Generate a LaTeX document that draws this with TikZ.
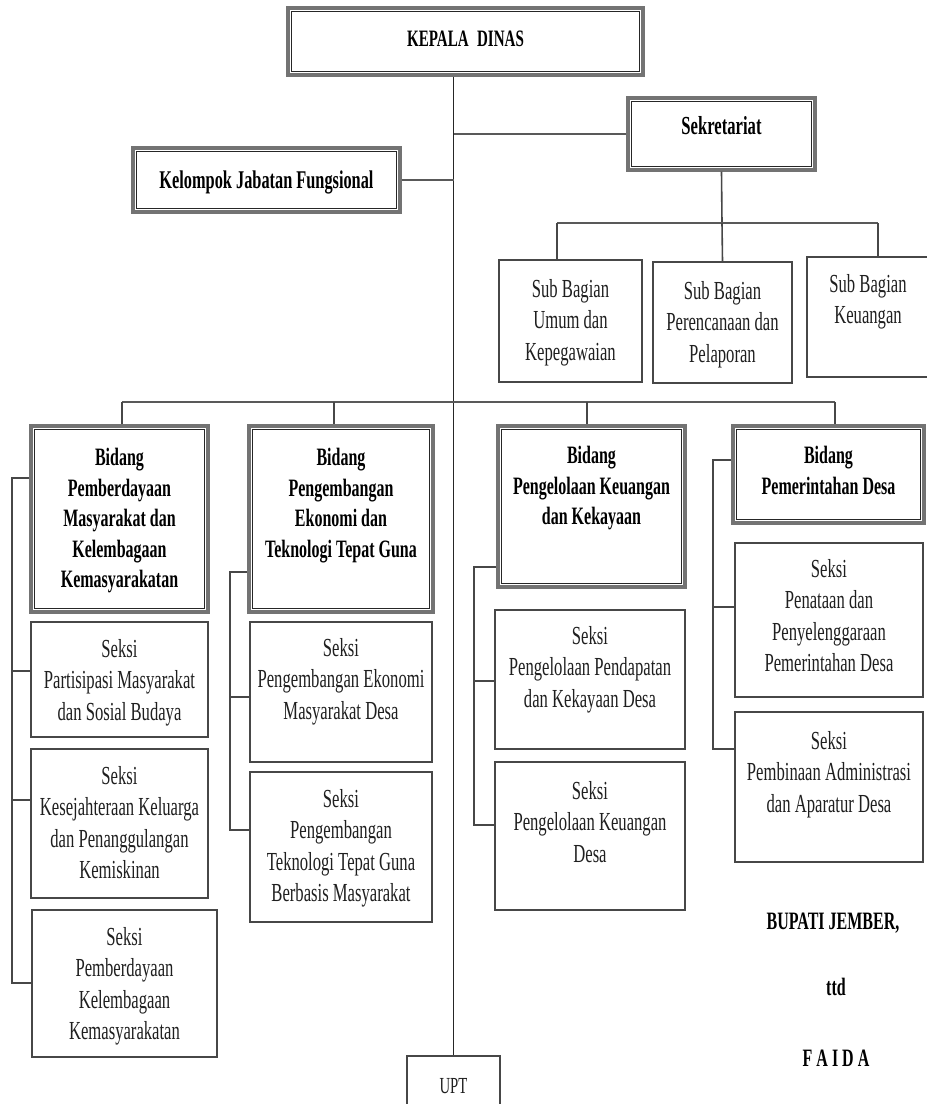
\documentclass[tikz,border=0pt]{standalone}
\usepackage{fontspec}
\setmainfont[FakeStretch=0.64]{Liberation Serif}
\begin{document}
\begin{tikzpicture}[x=1pt,y=-1pt,
  conn/.style={line width=1.6pt, draw=black!72},
  thickconn/.style={line width=2.4pt, draw=black!65},
  mainline/.style={line width=1.3pt, draw=black!85},
  sbox/.style={draw=black!72, line width=1.8pt, inner sep=0pt, fill=white},
  dbox/.style={draw=black!55, line width=3.2pt, inner sep=0pt, fill=white,
    path picture={\draw[black!85, line width=0.9pt]
      ([shift={(3.6pt,-3.6pt)}]path picture bounding box.north west) rectangle
      ([shift={(-3.6pt,3.6pt)}]path picture bounding box.south east);}},
  txt/.style={anchor=north, align=center, inner sep=0pt, text=black!88,
    font=\fontsize{26}{31.5}\selectfont},
  btxt/.style={anchor=north, align=center, inner sep=0pt, text=black,
    font=\bfseries\fontsize{25}{30.5}\selectfont}
]
\newcommand\bx[8]{\node[#2, minimum width={(#5-#3)*1pt}, minimum height={(#6-#4)*1pt},
  label={[#7]north:{#8}}] (#1) at ({(#3+#5)/2},{(#4+#6)/2}) {};}
\useasboundingbox (0,0) rectangle (927,1104);
\clip (0,0) rectangle (927,1104);
\fill[white] (0,0) rectangle (927,1104);

% helper coordinates
\coordinate (secbar) at (722,223);
\coordinate (secL) at (557,223);
\coordinate (secR) at (878,223);
\coordinate (bidL) at (122,402);
\coordinate (bid2) at (334,402);
\coordinate (bid3) at (587,402);
\coordinate (bidR) at (835,402);
\coordinate (sp1) at (12,478);
\coordinate (sp2) at (230,572);
\coordinate (sp3) at (474,567);
\coordinate (sp4) at (713,460);

% top level
\bx{kd}{dbox}{288}{8}{643}{75}{btxt,yshift=-24pt,font=\bfseries\fontsize{23.5}{28}\selectfont}{KEPALA\hspace{0.36em}DINAS}
\bx{sek}{dbox}{628}{98}{815}{170}{btxt,yshift=-20pt,font=\bfseries\fontsize{26}{30}\selectfont}{Sekretariat}
\bx{kjf}{dbox}{133}{148}{400}{212}{btxt,yshift=-24pt,font=\bfseries\fontsize{25.5}{30}\selectfont}{Kelompok Jabatan Fungsional}
\bx{upt}{sbox}{407}{1056}{500}{1120}{txt,yshift=-23pt,font=\fontsize{23}{27}\selectfont}{UPT}

% connectors (drawn before lower boxes)
\draw[mainline] (kd.south -| upt.north) -- (upt.north);
\draw[thickconn] (sek.west) -- (sek.west -| upt.north);
\draw[thickconn] (kjf.east) -- (kjf.east -| upt.north);
\draw[conn] (sek.south) -- (secbar);
\draw[thickconn] (secL) -- (secR);
\draw[thickconn] (bidL) -- (bidR);

% sub bagian
\bx{sb1}{sbox}{499}{260}{642}{382}{txt,yshift=-20pt}{Sub Bagian\\Umum dan\\Kepegawaian}
\bx{sb2}{sbox}{653}{262}{792}{383}{txt,yshift=-20pt}{Sub Bagian\\Perencanaan dan\\Pelaporan}
\bx{sb3}{sbox}{807}{257}{945}{377}{txt,yshift=-18pt,xshift=-8pt}{Sub Bagian\\Keuangan}

% bidang
\bx{b1}{dbox}{31}{426}{208}{612}{btxt,yshift=-24pt}{Bidang\\Pemberdayaan\\Masyarakat dan\\Kelembagaan\\Kemasyarakatan}
\bx{b2}{dbox}{249}{426}{433}{612}{btxt,yshift=-24pt}{Bidang\\Pengembangan\\Ekonomi dan\\Teknologi Tepat Guna}
\bx{b3}{dbox}{498}{426}{685}{587}{btxt,yshift=-22pt}{Bidang\\Pengelolaan Keuangan\\dan Kekayaan}
\bx{b4}{dbox}{733}{426}{924}{523}{btxt,yshift=-22pt}{Bidang\\Pemerintahan Desa}

% seksi
\bx{s1a}{sbox}{31}{622}{208}{737}{txt,yshift=-18pt}{Seksi\\Partisipasi Masyarakat\\dan Sosial Budaya}
\bx{s1b}{sbox}{31}{749}{208}{898}{txt,yshift=-18pt}{Seksi\\Kesejahteraan Keluarga\\dan Penanggulangan\\Kemiskinan}
\bx{s1c}{sbox}{32}{910}{217}{1057}{txt,yshift=-18pt}{Seksi\\Pemberdayaan\\Kelembagaan\\Kemasyarakatan}
\bx{s2a}{sbox}{250}{622}{432}{762}{txt,yshift=-17pt}{Seksi\\Pengembangan Ekonomi\\Masyarakat Desa}
\bx{s2b}{sbox}{250}{772}{432}{922}{txt,yshift=-18pt}{Seksi\\Pengembangan\\Teknologi Tepat Guna\\Berbasis Masyarakat}
\bx{s3a}{sbox}{495}{610}{685}{749}{txt,yshift=-17pt}{Seksi\\Pengelolaan Pendapatan\\dan Kekayaan Desa}
\bx{s3b}{sbox}{495}{762}{685}{910}{txt,yshift=-20pt}{Seksi\\Pengelolaan Keuangan\\Desa}
\bx{s4a}{sbox}{735}{543}{923}{697}{txt,yshift=-17pt}{Seksi\\Penataan dan\\Penyelenggaraan\\Pemerintahan Desa}
\bx{s4b}{sbox}{735}{712}{923}{862}{txt,yshift=-20pt}{Seksi\\Pembinaan Administrasi\\dan Aparatur Desa}

% signature
\node[btxt] (bup) at (833,913) {BUPATI JEMBER,};
\node[btxt] (ttd) at (836,978) {ttd};
\node[btxt] (faida) at (836,1050) {F A I D A};

% drops
\draw[conn] (secL) -- (secL |- sb1.north);
\draw[conn] (secbar) -- (sb2.north);
\draw[conn] (secR) -- (secR |- sb3.north);
\draw[conn] (bidL) -- (bidL |- b1.north);
\draw[conn] (bid2) -- (bid2 |- b2.north);
\draw[conn] (bid3) -- (bid3 |- b3.north);
\draw[conn] (bidR) -- (bidR |- b4.north);

% spines
\draw[conn] (b1.west |- sp1) -- (sp1) -- (12,983) -- (s1c.west |- 12,983);
\draw[conn] (12,671) -- (s1a.west |- 12,671);
\draw[conn] (12,800) -- (s1b.west |- 12,800);

\draw[conn] (b2.west |- sp2) -- (sp2) -- (230,830) -- (s2b.west |- 230,830);
\draw[conn] (230,697) -- (s2a.west |- 230,697);

\draw[conn] (b3.west |- sp3) -- (sp3) -- (474,825) -- (s3b.west |- 474,825);
\draw[conn] (474,681) -- (s3a.west |- 474,681);

\draw[conn] (b4.west |- sp4) -- (sp4) -- (713,749) -- (s4b.west |- 713,749);
\draw[conn] (713,607) -- (s4a.west |- 713,607);
\end{tikzpicture}
\end{document}
